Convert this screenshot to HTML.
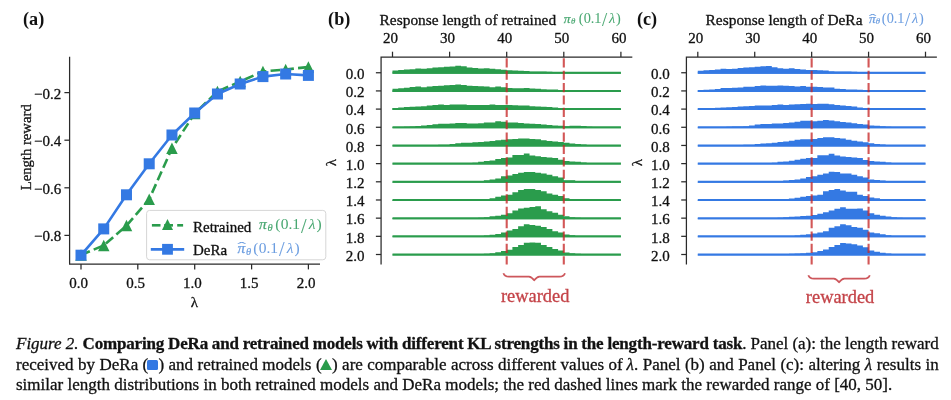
<!DOCTYPE html>
<html><head><meta charset="utf-8"><style>
html,body{margin:0;padding:0;background:#fff;}
body{width:951px;height:400px;overflow:hidden;position:relative;}
svg,.cap{will-change:transform;}
svg{position:absolute;left:0;top:0;}
.t{font-family:"Liberation Serif",serif;font-size:15px;fill:#111;stroke:#111;stroke-width:0.3px;}
.m{font-family:"Liberation Serif",serif;}
.mi{font-family:"Liberation Serif",serif;font-style:italic;}
.sub{font-size:10.5px;font-style:italic;}
.pl{font-family:"Liberation Serif",serif;font-size:18.2px;font-weight:bold;fill:#111;}
.rw{font-family:"Liberation Serif",serif;font-size:18.4px;fill:#c44348;stroke:#c44348;stroke-width:0.3px;}
.sp{fill:none;stroke:#2a2a2a;stroke-width:1.25;}
.tk{stroke:#2a2a2a;stroke-width:1.25;}
.cap{position:absolute;left:15.6px;width:922.7px;font-family:"Liberation Serif",serif;font-size:17px;color:#111;white-space:nowrap;line-height:20px;word-spacing:-0.4px;-webkit-text-stroke:0.3px #111;}
.j{text-align:justify;text-align-last:justify;}
.ic{display:inline-block;width:11.7px;height:10.4px;background:#3479e3;border-radius:1.5px;vertical-align:0px;}
.it{display:inline-block;width:0;height:0;border-left:6.2px solid transparent;border-right:6.2px solid transparent;border-bottom:11px solid #2a9c4c;vertical-align:-0.3px;}
</style></head><body>
<svg width="951" height="400" viewBox="0 0 951 400">
<text x="23.0" y="25.0" class="pl">(a)</text>
<path d="M69.6,56.7 V264.0 H320.0" class="sp"/>
<line x1="64.4" y1="92.6" x2="69.6" y2="92.6" class="tk"/>
<text x="61.3" y="98.6" class="t" text-anchor="end">−0.2</text>
<line x1="64.4" y1="140.2" x2="69.6" y2="140.2" class="tk"/>
<text x="61.3" y="146.2" class="t" text-anchor="end">−0.4</text>
<line x1="64.4" y1="187.8" x2="69.6" y2="187.8" class="tk"/>
<text x="61.3" y="193.8" class="t" text-anchor="end">−0.6</text>
<line x1="64.4" y1="235.4" x2="69.6" y2="235.4" class="tk"/>
<text x="61.3" y="241.4" class="t" text-anchor="end">−0.8</text>
<line x1="81.0" y1="264.0" x2="81.0" y2="269.4" class="tk"/>
<text x="78.7" y="287.8" class="t" text-anchor="middle">0.0</text>
<line x1="137.8" y1="264.0" x2="137.8" y2="269.4" class="tk"/>
<text x="135.5" y="287.8" class="t" text-anchor="middle">0.5</text>
<line x1="194.7" y1="264.0" x2="194.7" y2="269.4" class="tk"/>
<text x="192.4" y="287.8" class="t" text-anchor="middle">1.0</text>
<line x1="251.6" y1="264.0" x2="251.6" y2="269.4" class="tk"/>
<text x="249.2" y="287.8" class="t" text-anchor="middle">1.5</text>
<line x1="308.4" y1="264.0" x2="308.4" y2="269.4" class="tk"/>
<text x="306.1" y="287.8" class="t" text-anchor="middle">2.0</text>
<text x="194.4" y="307.3" class="t" text-anchor="middle">λ</text>
<text transform="translate(31,147.3) rotate(-90)" class="t" style="font-size:14.7px" text-anchor="middle">Length reward</text>
<polyline points="81.00,255.00 103.74,245.40 126.48,225.60 149.22,199.20 171.96,148.30 194.70,113.50 217.44,91.50 240.18,81.50 262.92,71.50 285.66,69.50 308.40,67.00" fill="none" stroke="#2a9c4c" stroke-width="2.6" stroke-dasharray="9.6,4.2" stroke-linejoin="round"/>
<path d="M81.00,249.25 L75.25,260.75 L86.75,260.75Z" fill="#2a9c4c"/>
<path d="M103.74,239.65 L97.99,251.15 L109.49,251.15Z" fill="#2a9c4c"/>
<path d="M126.48,219.85 L120.73,231.35 L132.23,231.35Z" fill="#2a9c4c"/>
<path d="M149.22,193.45 L143.47,204.95 L154.97,204.95Z" fill="#2a9c4c"/>
<path d="M171.96,142.55 L166.21,154.05 L177.71,154.05Z" fill="#2a9c4c"/>
<path d="M194.70,107.75 L188.95,119.25 L200.45,119.25Z" fill="#2a9c4c"/>
<path d="M217.44,85.75 L211.69,97.25 L223.19,97.25Z" fill="#2a9c4c"/>
<path d="M240.18,75.75 L234.43,87.25 L245.93,87.25Z" fill="#2a9c4c"/>
<path d="M262.92,65.75 L257.17,77.25 L268.67,77.25Z" fill="#2a9c4c"/>
<path d="M285.66,63.75 L279.91,75.25 L291.41,75.25Z" fill="#2a9c4c"/>
<path d="M308.40,61.25 L302.65,72.75 L314.15,72.75Z" fill="#2a9c4c"/>
<polyline points="81.00,255.20 103.74,228.90 126.48,194.80 149.22,163.80 171.96,135.00 194.70,113.00 217.44,94.00 240.18,84.00 262.92,76.60 285.66,74.00 308.40,75.40" fill="none" stroke="#3479e3" stroke-width="2.6" stroke-linejoin="round"/>
<rect x="75.50" y="249.70" width="11.0" height="11.0" fill="#3479e3"/>
<rect x="98.24" y="223.40" width="11.0" height="11.0" fill="#3479e3"/>
<rect x="120.98" y="189.30" width="11.0" height="11.0" fill="#3479e3"/>
<rect x="143.72" y="158.30" width="11.0" height="11.0" fill="#3479e3"/>
<rect x="166.46" y="129.50" width="11.0" height="11.0" fill="#3479e3"/>
<rect x="189.20" y="107.50" width="11.0" height="11.0" fill="#3479e3"/>
<rect x="211.94" y="88.50" width="11.0" height="11.0" fill="#3479e3"/>
<rect x="234.68" y="78.50" width="11.0" height="11.0" fill="#3479e3"/>
<rect x="257.42" y="71.10" width="11.0" height="11.0" fill="#3479e3"/>
<rect x="280.16" y="68.50" width="11.0" height="11.0" fill="#3479e3"/>
<rect x="302.90" y="69.90" width="11.0" height="11.0" fill="#3479e3"/>
<rect x="146.6" y="210.4" width="179.2" height="49.4" rx="3" ry="3" fill="#fff" fill-opacity="0.85" stroke="#d6d6d6" stroke-width="1"/>
<line x1="151.9" y1="225.3" x2="160.5" y2="225.3" stroke="#2a9c4c" stroke-width="2.6"/>
<line x1="164.2" y1="225.3" x2="173" y2="225.3" stroke="#2a9c4c" stroke-width="2.6"/>
<line x1="177.2" y1="225.3" x2="183.1" y2="225.3" stroke="#2a9c4c" stroke-width="2.6"/>
<path d="M167.50,218.90 L162.00,229.90 L173.00,229.90Z" fill="#2a9c4c"/>
<line x1="150.8" y1="249.4" x2="184.2" y2="249.4" stroke="#3479e3" stroke-width="2.6"/>
<rect x="162.10" y="243.90" width="10.8" height="10.8" fill="#3479e3"/>
<text x="193" y="231.6" class="t">Retrained</text>
<text x="259.12" y="229.00" font-size="15.5" class="mi" fill="#4aa872" stroke="#4aa872" stroke-width="0.25">π</text>
<text x="267.39" y="231.40" font-size="10.5" class="mi" fill="#4aa872" stroke="#4aa872" stroke-width="0.2">θ</text>
<text x="275.32" y="229.40" font-size="15.5" class="m" fill="#4aa872" stroke="#4aa872" stroke-width="0.05">(</text>
<text x="280.70" y="229.40" font-size="15.5" class="m" fill="#4aa872" stroke="#4aa872" stroke-width="0.05">0</text>
<text x="288.49" y="229.40" font-size="15.5" class="m" fill="#4aa872" stroke="#4aa872" stroke-width="0.05">.</text>
<text x="292.30" y="229.40" font-size="15.5" class="m" fill="#4aa872" stroke="#4aa872" stroke-width="0.05">1</text>
<text x="300.95" y="232.83" font-size="20.15" class="m" fill="#4aa872" stroke="#4aa872" stroke-width="0.05">/</text>
<text x="308.87" y="229.40" font-size="15.5" class="mi" fill="#4aa872" stroke="#4aa872" stroke-width="0.05">λ</text>
<text x="316.60" y="229.40" font-size="15.5" class="m" fill="#4aa872" stroke="#4aa872" stroke-width="0.05">)</text>
<text x="193" y="254.5" class="t">DeRa</text>
<text x="237.42" y="252.60" font-size="15.5" class="mi" fill="#6d9ee0" stroke="#6d9ee0" stroke-width="0.25">π</text>
<text x="245.89" y="254.60" font-size="10.5" class="mi" fill="#6d9ee0" stroke="#6d9ee0" stroke-width="0.2">θ</text>
<text x="253.32" y="252.90" font-size="15.5" class="m" fill="#6d9ee0" stroke="#6d9ee0" stroke-width="0.05">(</text>
<text x="258.70" y="252.90" font-size="15.5" class="m" fill="#6d9ee0" stroke="#6d9ee0" stroke-width="0.05">0</text>
<text x="266.49" y="252.90" font-size="15.5" class="m" fill="#6d9ee0" stroke="#6d9ee0" stroke-width="0.05">.</text>
<text x="270.30" y="252.90" font-size="15.5" class="m" fill="#6d9ee0" stroke="#6d9ee0" stroke-width="0.05">1</text>
<text x="278.95" y="256.33" font-size="20.15" class="m" fill="#6d9ee0" stroke="#6d9ee0" stroke-width="0.05">/</text>
<text x="286.87" y="252.90" font-size="15.5" class="mi" fill="#6d9ee0" stroke="#6d9ee0" stroke-width="0.05">λ</text>
<text x="294.60" y="252.90" font-size="15.5" class="m" fill="#6d9ee0" stroke="#6d9ee0" stroke-width="0.05">)</text>
<text transform="translate(237.30,251.55) scale(1.9,1)" font-size="14" class="m" fill="#6d9ee0">ˆ</text>
<text x="328.1" y="25.0" class="pl">(b)</text>
<path d="M392.50,73.75 L392.50,70.45 L398.21,70.45 L398.21,70.05 L403.92,70.05 L403.92,69.45 L409.63,69.45 L409.63,69.15 L415.34,69.15 L415.34,68.45 L421.05,68.45 L421.05,68.75 L426.76,68.75 L426.76,68.15 L432.47,68.15 L432.47,67.55 L438.18,67.55 L438.18,67.15 L443.89,67.15 L443.89,66.75 L449.60,66.75 L449.60,66.55 L455.31,66.55 L455.31,65.85 L461.02,65.85 L461.02,66.25 L466.73,66.25 L466.73,67.55 L472.44,67.55 L472.44,68.05 L478.15,68.05 L478.15,68.45 L483.86,68.45 L483.86,68.15 L489.57,68.15 L489.57,68.85 L495.28,68.85 L495.28,69.35 L500.99,69.35 L500.99,69.75 L506.70,69.75 L506.70,70.15 L512.41,70.15 L512.41,70.45 L518.12,70.45 L518.12,70.65 L523.83,70.65 L523.83,71.05 L529.54,71.05 L529.54,71.45 L535.25,71.45 L535.25,71.45 L540.96,71.45 L540.96,71.55 L546.67,71.55 L546.67,71.85 L552.38,71.85 L552.38,71.95 L558.09,71.95 L558.09,72.15 L563.80,72.15 L563.80,72.35 L569.51,72.35 L569.51,72.55 L575.22,72.55 L575.22,72.65 L580.93,72.65 L580.93,72.65 L586.64,72.65 L586.64,72.65 L592.35,72.65 L592.35,72.65 L598.06,72.65 L598.06,72.65 L603.77,72.65 L603.77,72.65 L609.48,72.65 L609.48,72.65 L615.19,72.65 L615.19,72.65 L620.90,72.65 L620.90,73.75Z" fill="#2a9c4c"/>
<line x1="392.50" y1="72.75" x2="620.90" y2="72.75" stroke="#2a9c4c" stroke-width="2"/>
<path d="M392.50,91.92 L392.50,88.83 L398.21,88.83 L398.21,88.33 L403.92,88.33 L403.92,87.72 L409.63,87.72 L409.63,87.02 L415.34,87.02 L415.34,86.62 L421.05,86.62 L421.05,87.33 L426.76,87.33 L426.76,86.62 L432.47,86.62 L432.47,86.02 L438.18,86.02 L438.18,85.72 L443.89,85.72 L443.89,85.33 L449.60,85.33 L449.60,84.92 L455.31,84.92 L455.31,84.42 L461.02,84.42 L461.02,84.92 L466.73,84.92 L466.73,85.72 L472.44,85.72 L472.44,86.02 L478.15,86.02 L478.15,86.22 L483.86,86.22 L483.86,86.62 L489.57,86.62 L489.57,87.33 L495.28,87.33 L495.28,86.62 L500.99,86.62 L500.99,87.33 L506.70,87.33 L506.70,88.02 L512.41,88.02 L512.41,88.33 L518.12,88.33 L518.12,88.33 L523.83,88.33 L523.83,88.02 L529.54,88.02 L529.54,88.62 L535.25,88.62 L535.25,88.83 L540.96,88.83 L540.96,89.22 L546.67,89.22 L546.67,89.62 L552.38,89.62 L552.38,89.62 L558.09,89.62 L558.09,89.92 L563.80,89.92 L563.80,90.22 L569.51,90.22 L569.51,90.42 L575.22,90.42 L575.22,90.67 L580.93,90.67 L580.93,90.80 L586.64,90.80 L586.64,90.83 L592.35,90.83 L592.35,90.83 L598.06,90.83 L598.06,90.83 L603.77,90.83 L603.77,90.83 L609.48,90.83 L609.48,90.83 L615.19,90.83 L615.19,90.83 L620.90,90.83 L620.90,91.92Z" fill="#2a9c4c"/>
<line x1="392.50" y1="90.92" x2="620.90" y2="90.92" stroke="#2a9c4c" stroke-width="2"/>
<path d="M392.50,110.10 L392.50,107.90 L398.21,107.90 L398.21,107.50 L403.92,107.50 L403.92,107.10 L409.63,107.10 L409.63,106.80 L415.34,106.80 L415.34,106.60 L421.05,106.60 L421.05,106.20 L426.76,106.20 L426.76,105.50 L432.47,105.50 L432.47,104.90 L438.18,104.90 L438.18,104.60 L443.89,104.60 L443.89,104.90 L449.60,104.90 L449.60,104.60 L455.31,104.60 L455.31,104.50 L461.02,104.50 L461.02,104.60 L466.73,104.60 L466.73,104.90 L472.44,104.90 L472.44,104.90 L478.15,104.90 L478.15,104.90 L483.86,104.90 L483.86,104.90 L489.57,104.90 L489.57,104.60 L495.28,104.60 L495.28,104.90 L500.99,104.90 L500.99,104.90 L506.70,104.90 L506.70,104.90 L512.41,104.90 L512.41,105.30 L518.12,105.30 L518.12,105.50 L523.83,105.50 L523.83,105.50 L529.54,105.50 L529.54,106.20 L535.25,106.20 L535.25,106.60 L540.96,106.60 L540.96,106.80 L546.67,106.80 L546.67,107.10 L552.38,107.10 L552.38,107.50 L558.09,107.50 L558.09,107.90 L563.80,107.90 L563.80,108.10 L569.51,108.10 L569.51,108.50 L575.22,108.50 L575.22,108.80 L580.93,108.80 L580.93,108.95 L586.64,108.95 L586.64,109.00 L592.35,109.00 L592.35,109.00 L598.06,109.00 L598.06,109.00 L603.77,109.00 L603.77,109.00 L609.48,109.00 L609.48,109.00 L615.19,109.00 L615.19,109.00 L620.90,109.00 L620.90,110.10Z" fill="#2a9c4c"/>
<line x1="392.50" y1="109.10" x2="620.90" y2="109.10" stroke="#2a9c4c" stroke-width="2"/>
<path d="M392.50,128.28 L392.50,127.08 L398.21,127.08 L398.21,126.98 L403.92,126.98 L403.92,126.78 L409.63,126.78 L409.63,126.48 L415.34,126.48 L415.34,126.08 L421.05,126.08 L421.05,125.48 L426.76,125.48 L426.76,124.88 L432.47,124.88 L432.47,124.28 L438.18,124.28 L438.18,123.78 L443.89,123.78 L443.89,123.78 L449.60,123.78 L449.60,123.38 L455.31,123.38 L455.31,122.88 L461.02,122.88 L461.02,122.88 L466.73,122.88 L466.73,123.38 L472.44,123.38 L472.44,123.38 L478.15,123.38 L478.15,123.28 L483.86,123.28 L483.86,122.58 L489.57,122.58 L489.57,122.58 L495.28,122.58 L495.28,121.28 L500.99,121.28 L500.99,121.78 L506.70,121.78 L506.70,122.38 L512.41,122.38 L512.41,122.58 L518.12,122.58 L518.12,122.88 L523.83,122.88 L523.83,123.38 L529.54,123.38 L529.54,123.78 L535.25,123.78 L535.25,124.08 L540.96,124.08 L540.96,124.58 L546.67,124.58 L546.67,124.98 L552.38,124.98 L552.38,125.48 L558.09,125.48 L558.09,125.78 L563.80,125.78 L563.80,126.28 L569.51,126.28 L569.51,125.68 L575.22,125.68 L575.22,125.68 L580.93,125.68 L580.93,125.88 L586.64,125.88 L586.64,126.68 L592.35,126.68 L592.35,126.98 L598.06,126.98 L598.06,127.12 L603.77,127.12 L603.77,127.18 L609.48,127.18 L609.48,127.18 L615.19,127.18 L615.19,127.18 L620.90,127.18 L620.90,128.28Z" fill="#2a9c4c"/>
<line x1="392.50" y1="127.28" x2="620.90" y2="127.28" stroke="#2a9c4c" stroke-width="2"/>
<path d="M392.50,146.45 L392.50,145.35 L398.21,145.35 L398.21,145.35 L403.92,145.35 L403.92,145.35 L409.63,145.35 L409.63,145.30 L415.34,145.30 L415.34,145.25 L421.05,145.25 L421.05,145.15 L426.76,145.15 L426.76,145.05 L432.47,145.05 L432.47,144.95 L438.18,144.95 L438.18,144.85 L443.89,144.85 L443.89,144.85 L449.60,144.85 L449.60,143.95 L455.31,143.95 L455.31,143.15 L461.02,143.15 L461.02,142.65 L466.73,142.65 L466.73,142.65 L472.44,142.65 L472.44,142.35 L478.15,142.35 L478.15,141.95 L483.86,141.95 L483.86,141.45 L489.57,141.45 L489.57,140.95 L495.28,140.95 L495.28,140.15 L500.99,140.15 L500.99,139.75 L506.70,139.75 L506.70,139.25 L512.41,139.25 L512.41,138.95 L518.12,138.95 L518.12,138.55 L523.83,138.55 L523.83,138.55 L529.54,138.55 L529.54,138.95 L535.25,138.95 L535.25,139.25 L540.96,139.25 L540.96,140.25 L546.67,140.25 L546.67,140.95 L552.38,140.95 L552.38,141.45 L558.09,141.45 L558.09,141.95 L563.80,141.95 L563.80,142.85 L569.51,142.85 L569.51,143.55 L575.22,143.55 L575.22,143.95 L580.93,143.95 L580.93,144.55 L586.64,144.55 L586.64,144.95 L592.35,144.95 L592.35,145.20 L598.06,145.20 L598.06,145.32 L603.77,145.32 L603.77,145.35 L609.48,145.35 L609.48,145.35 L615.19,145.35 L615.19,145.35 L620.90,145.35 L620.90,146.45Z" fill="#2a9c4c"/>
<line x1="392.50" y1="145.45" x2="620.90" y2="145.45" stroke="#2a9c4c" stroke-width="2"/>
<path d="M392.50,164.62 L392.50,163.53 L398.21,163.53 L398.21,163.53 L403.92,163.53 L403.92,163.53 L409.63,163.53 L409.63,163.53 L415.34,163.53 L415.34,163.53 L421.05,163.53 L421.05,163.53 L426.76,163.53 L426.76,163.53 L432.47,163.53 L432.47,163.53 L438.18,163.53 L438.18,163.53 L443.89,163.53 L443.89,163.53 L449.60,163.53 L449.60,163.53 L455.31,163.53 L455.31,163.51 L461.02,163.51 L461.02,163.40 L466.73,163.40 L466.73,163.18 L472.44,163.18 L472.44,162.72 L478.15,162.72 L478.15,161.82 L483.86,161.82 L483.86,161.12 L489.57,161.12 L489.57,160.43 L495.28,160.43 L495.28,159.03 L500.99,159.03 L500.99,157.93 L506.70,157.93 L506.70,157.62 L512.41,157.62 L512.41,154.93 L518.12,154.93 L518.12,154.93 L523.83,154.93 L523.83,153.53 L529.54,153.53 L529.54,155.62 L535.25,155.62 L535.25,156.32 L540.96,156.32 L540.96,156.93 L546.67,156.93 L546.67,157.43 L552.38,157.43 L552.38,157.93 L558.09,157.93 L558.09,159.72 L563.80,159.72 L563.80,161.12 L569.51,161.12 L569.51,161.53 L575.22,161.53 L575.22,161.82 L580.93,161.82 L580.93,162.43 L586.64,162.43 L586.64,163.03 L592.35,163.03 L592.35,163.32 L598.06,163.32 L598.06,163.47 L603.77,163.47 L603.77,163.53 L609.48,163.53 L609.48,163.53 L615.19,163.53 L615.19,163.53 L620.90,163.53 L620.90,164.62Z" fill="#2a9c4c"/>
<line x1="392.50" y1="163.62" x2="620.90" y2="163.62" stroke="#2a9c4c" stroke-width="2"/>
<path d="M392.50,182.80 L392.50,181.70 L398.21,181.70 L398.21,181.70 L403.92,181.70 L403.92,181.70 L409.63,181.70 L409.63,181.70 L415.34,181.70 L415.34,181.70 L421.05,181.70 L421.05,181.70 L426.76,181.70 L426.76,181.70 L432.47,181.70 L432.47,181.70 L438.18,181.70 L438.18,181.70 L443.89,181.70 L443.89,181.70 L449.60,181.70 L449.60,181.70 L455.31,181.70 L455.31,181.70 L461.02,181.70 L461.02,181.70 L466.73,181.70 L466.73,181.60 L472.44,181.60 L472.44,181.40 L478.15,181.40 L478.15,181.00 L483.86,181.00 L483.86,180.30 L489.57,180.30 L489.57,179.60 L495.28,179.60 L495.28,178.50 L500.99,178.50 L500.99,176.20 L506.70,176.20 L506.70,175.50 L512.41,175.50 L512.41,174.10 L518.12,174.10 L518.12,172.80 L523.83,172.80 L523.83,172.10 L529.54,172.10 L529.54,172.10 L535.25,172.10 L535.25,172.80 L540.96,172.80 L540.96,173.50 L546.67,173.50 L546.67,174.80 L552.38,174.80 L552.38,176.20 L558.09,176.20 L558.09,177.60 L563.80,177.60 L563.80,180.30 L569.51,180.30 L569.51,180.30 L575.22,180.30 L575.22,181.00 L580.93,181.00 L580.93,181.40 L586.64,181.40 L586.64,181.60 L592.35,181.60 L592.35,181.70 L598.06,181.70 L598.06,181.70 L603.77,181.70 L603.77,181.70 L609.48,181.70 L609.48,181.70 L615.19,181.70 L615.19,181.70 L620.90,181.70 L620.90,182.80Z" fill="#2a9c4c"/>
<line x1="392.50" y1="181.80" x2="620.90" y2="181.80" stroke="#2a9c4c" stroke-width="2"/>
<path d="M392.50,200.98 L392.50,199.88 L398.21,199.88 L398.21,199.88 L403.92,199.88 L403.92,199.88 L409.63,199.88 L409.63,199.88 L415.34,199.88 L415.34,199.88 L421.05,199.88 L421.05,199.88 L426.76,199.88 L426.76,199.88 L432.47,199.88 L432.47,199.88 L438.18,199.88 L438.18,199.88 L443.89,199.88 L443.89,199.88 L449.60,199.88 L449.60,199.88 L455.31,199.88 L455.31,199.88 L461.02,199.88 L461.02,199.88 L466.73,199.88 L466.73,199.88 L472.44,199.88 L472.44,199.78 L478.15,199.78 L478.15,199.58 L483.86,199.58 L483.86,198.88 L489.57,198.88 L489.57,198.18 L495.28,198.18 L495.28,196.78 L500.99,196.78 L500.99,195.48 L506.70,195.48 L506.70,194.78 L512.41,194.78 L512.41,192.28 L518.12,192.28 L518.12,189.98 L523.83,189.98 L523.83,188.98 L529.54,188.98 L529.54,188.98 L535.25,188.98 L535.25,189.98 L540.96,189.98 L540.96,191.28 L546.67,191.28 L546.67,193.38 L552.38,193.38 L552.38,194.78 L558.09,194.78 L558.09,196.08 L563.80,196.08 L563.80,198.18 L569.51,198.18 L569.51,198.88 L575.22,198.88 L575.22,199.43 L580.93,199.43 L580.93,199.70 L586.64,199.70 L586.64,199.84 L592.35,199.84 L592.35,199.88 L598.06,199.88 L598.06,199.88 L603.77,199.88 L603.77,199.88 L609.48,199.88 L609.48,199.88 L615.19,199.88 L615.19,199.88 L620.90,199.88 L620.90,200.98Z" fill="#2a9c4c"/>
<line x1="392.50" y1="199.98" x2="620.90" y2="199.98" stroke="#2a9c4c" stroke-width="2"/>
<path d="M392.50,219.15 L392.50,218.05 L398.21,218.05 L398.21,218.05 L403.92,218.05 L403.92,218.05 L409.63,218.05 L409.63,218.05 L415.34,218.05 L415.34,218.05 L421.05,218.05 L421.05,218.05 L426.76,218.05 L426.76,218.05 L432.47,218.05 L432.47,218.05 L438.18,218.05 L438.18,218.05 L443.89,218.05 L443.89,218.05 L449.60,218.05 L449.60,218.05 L455.31,218.05 L455.31,218.05 L461.02,218.05 L461.02,218.05 L466.73,218.05 L466.73,218.05 L472.44,218.05 L472.44,218.00 L478.15,218.00 L478.15,217.85 L483.86,217.85 L483.86,217.15 L489.57,217.15 L489.57,216.25 L495.28,216.25 L495.28,215.65 L500.99,215.65 L500.99,214.65 L506.70,214.65 L506.70,213.25 L512.41,213.25 L512.41,210.55 L518.12,210.55 L518.12,208.45 L523.83,208.45 L523.83,207.75 L529.54,207.75 L529.54,207.05 L535.25,207.05 L535.25,206.35 L540.96,206.35 L540.96,209.15 L546.67,209.15 L546.67,211.25 L552.38,211.25 L552.38,212.85 L558.09,212.85 L558.09,214.65 L563.80,214.65 L563.80,216.25 L569.51,216.25 L569.51,217.15 L575.22,217.15 L575.22,217.85 L580.93,217.85 L580.93,218.00 L586.64,218.00 L586.64,218.05 L592.35,218.05 L592.35,218.05 L598.06,218.05 L598.06,218.05 L603.77,218.05 L603.77,218.05 L609.48,218.05 L609.48,218.05 L615.19,218.05 L615.19,218.05 L620.90,218.05 L620.90,219.15Z" fill="#2a9c4c"/>
<line x1="392.50" y1="218.15" x2="620.90" y2="218.15" stroke="#2a9c4c" stroke-width="2"/>
<path d="M392.50,237.33 L392.50,236.23 L398.21,236.23 L398.21,236.23 L403.92,236.23 L403.92,236.23 L409.63,236.23 L409.63,236.23 L415.34,236.23 L415.34,236.23 L421.05,236.23 L421.05,236.23 L426.76,236.23 L426.76,236.23 L432.47,236.23 L432.47,236.23 L438.18,236.23 L438.18,236.23 L443.89,236.23 L443.89,236.23 L449.60,236.23 L449.60,236.23 L455.31,236.23 L455.31,236.23 L461.02,236.23 L461.02,236.23 L466.73,236.23 L466.73,236.23 L472.44,236.23 L472.44,236.13 L478.15,236.13 L478.15,235.93 L483.86,235.93 L483.86,235.53 L489.57,235.53 L489.57,234.83 L495.28,234.83 L495.28,233.93 L500.99,233.93 L500.99,232.53 L506.70,232.53 L506.70,230.43 L512.41,230.43 L512.41,229.03 L518.12,229.03 L518.12,226.33 L523.83,226.33 L523.83,224.23 L529.54,224.23 L529.54,224.93 L535.25,224.93 L535.25,225.63 L540.96,225.63 L540.96,227.03 L546.67,227.03 L546.67,229.03 L552.38,229.03 L552.38,231.13 L558.09,231.13 L558.09,232.53 L563.80,232.53 L563.80,234.53 L569.51,234.53 L569.51,235.23 L575.22,235.23 L575.22,235.93 L580.93,235.93 L580.93,236.13 L586.64,236.13 L586.64,236.23 L592.35,236.23 L592.35,236.23 L598.06,236.23 L598.06,236.23 L603.77,236.23 L603.77,236.23 L609.48,236.23 L609.48,236.23 L615.19,236.23 L615.19,236.23 L620.90,236.23 L620.90,237.33Z" fill="#2a9c4c"/>
<line x1="392.50" y1="236.33" x2="620.90" y2="236.33" stroke="#2a9c4c" stroke-width="2"/>
<path d="M392.50,255.50 L392.50,254.40 L398.21,254.40 L398.21,254.40 L403.92,254.40 L403.92,254.40 L409.63,254.40 L409.63,254.40 L415.34,254.40 L415.34,254.40 L421.05,254.40 L421.05,254.40 L426.76,254.40 L426.76,254.40 L432.47,254.40 L432.47,254.40 L438.18,254.40 L438.18,254.40 L443.89,254.40 L443.89,254.40 L449.60,254.40 L449.60,254.40 L455.31,254.40 L455.31,254.40 L461.02,254.40 L461.02,254.40 L466.73,254.40 L466.73,254.40 L472.44,254.40 L472.44,254.30 L478.15,254.30 L478.15,254.10 L483.86,254.10 L483.86,253.80 L489.57,253.80 L489.57,253.20 L495.28,253.20 L495.28,252.20 L500.99,252.20 L500.99,251.10 L506.70,251.10 L506.70,249.70 L512.41,249.70 L512.41,247.00 L518.12,247.00 L518.12,244.90 L523.83,244.90 L523.83,242.80 L529.54,242.80 L529.54,242.60 L535.25,242.60 L535.25,242.80 L540.96,242.80 L540.96,244.90 L546.67,244.90 L546.67,247.00 L552.38,247.00 L552.38,249.00 L558.09,249.00 L558.09,250.40 L563.80,250.40 L563.80,252.50 L569.51,252.50 L569.51,253.20 L575.22,253.20 L575.22,253.80 L580.93,253.80 L580.93,254.15 L586.64,254.15 L586.64,254.32 L592.35,254.32 L592.35,254.40 L598.06,254.40 L598.06,254.40 L603.77,254.40 L603.77,254.40 L609.48,254.40 L609.48,254.40 L615.19,254.40 L615.19,254.40 L620.90,254.40 L620.90,255.50Z" fill="#2a9c4c"/>
<line x1="392.50" y1="254.50" x2="620.90" y2="254.50" stroke="#2a9c4c" stroke-width="2"/>
<line x1="506.70" y1="58.3" x2="506.70" y2="264.5" stroke="#c62828" stroke-width="2.1" stroke-dasharray="9.2,3.17" stroke-opacity="0.78"/>
<line x1="563.80" y1="58.3" x2="563.80" y2="264.5" stroke="#c62828" stroke-width="2.1" stroke-dasharray="9.2,3.17" stroke-opacity="0.78"/>
<path d="M381.08,264.5 V57.0 H632.32" class="sp"/>
<line x1="392.50" y1="51.7" x2="392.50" y2="57.0" class="tk"/>
<text x="390.50" y="43.2" class="t" text-anchor="middle">20</text>
<line x1="449.60" y1="51.7" x2="449.60" y2="57.0" class="tk"/>
<text x="447.60" y="43.2" class="t" text-anchor="middle">30</text>
<line x1="506.70" y1="51.7" x2="506.70" y2="57.0" class="tk"/>
<text x="504.70" y="43.2" class="t" text-anchor="middle">40</text>
<line x1="563.80" y1="51.7" x2="563.80" y2="57.0" class="tk"/>
<text x="561.80" y="43.2" class="t" text-anchor="middle">50</text>
<line x1="620.90" y1="51.7" x2="620.90" y2="57.0" class="tk"/>
<text x="618.90" y="43.2" class="t" text-anchor="middle">60</text>
<line x1="375.88" y1="72.75" x2="381.08" y2="72.75" class="tk"/>
<text x="364.48" y="79.05" class="t" text-anchor="end">0.0</text>
<line x1="375.88" y1="90.92" x2="381.08" y2="90.92" class="tk"/>
<text x="364.48" y="97.22" class="t" text-anchor="end">0.2</text>
<line x1="375.88" y1="109.10" x2="381.08" y2="109.10" class="tk"/>
<text x="364.48" y="115.40" class="t" text-anchor="end">0.4</text>
<line x1="375.88" y1="127.28" x2="381.08" y2="127.28" class="tk"/>
<text x="364.48" y="133.58" class="t" text-anchor="end">0.6</text>
<line x1="375.88" y1="145.45" x2="381.08" y2="145.45" class="tk"/>
<text x="364.48" y="151.75" class="t" text-anchor="end">0.8</text>
<line x1="375.88" y1="163.62" x2="381.08" y2="163.62" class="tk"/>
<text x="364.48" y="169.93" class="t" text-anchor="end">1.0</text>
<line x1="375.88" y1="181.80" x2="381.08" y2="181.80" class="tk"/>
<text x="364.48" y="188.10" class="t" text-anchor="end">1.2</text>
<line x1="375.88" y1="199.98" x2="381.08" y2="199.98" class="tk"/>
<text x="364.48" y="206.28" class="t" text-anchor="end">1.4</text>
<line x1="375.88" y1="218.15" x2="381.08" y2="218.15" class="tk"/>
<text x="364.48" y="224.45" class="t" text-anchor="end">1.6</text>
<line x1="375.88" y1="236.33" x2="381.08" y2="236.33" class="tk"/>
<text x="364.48" y="242.63" class="t" text-anchor="end">1.8</text>
<line x1="375.88" y1="254.50" x2="381.08" y2="254.50" class="tk"/>
<text x="364.48" y="260.80" class="t" text-anchor="end">2.0</text>
<text transform="translate(331.18,162.5) rotate(-90)" class="t" text-anchor="middle" dominant-baseline="central">λ</text>
<text x="379.6" y="24.7" class="t" style="font-size:15.4px">Response length of retrained</text>
<text x="563.78" y="22.90" font-size="13.5" class="mi" fill="#4aa872" stroke="#4aa872" stroke-width="0.25">π</text>
<text x="570.97" y="24.40" font-size="8.8" class="mi" fill="#4aa872" stroke="#4aa872" stroke-width="0.2">θ</text>
<text x="578.87" y="23.10" font-size="14.3" class="m" fill="#4aa872" stroke="#4aa872" stroke-width="0.05">(</text>
<text x="583.69" y="23.10" font-size="14.3" class="m" fill="#4aa872" stroke="#4aa872" stroke-width="0.05">0</text>
<text x="590.74" y="23.10" font-size="14.3" class="m" fill="#4aa872" stroke="#4aa872" stroke-width="0.05">.</text>
<text x="594.13" y="23.10" font-size="14.3" class="m" fill="#4aa872" stroke="#4aa872" stroke-width="0.05">1</text>
<text x="601.94" y="26.26" font-size="18.59" class="m" fill="#4aa872" stroke="#4aa872" stroke-width="0.05">/</text>
<text x="609.06" y="23.10" font-size="14.3" class="mi" fill="#4aa872" stroke="#4aa872" stroke-width="0.05">λ</text>
<text x="616.03" y="23.10" font-size="14.3" class="m" fill="#4aa872" stroke="#4aa872" stroke-width="0.05">)</text>
<path d="M503.40,273.2 Q504.60,276.6 508.90,276.6 L528.90,276.6 Q531.70,276.8 534.20,280.3 Q536.70,276.8 539.50,276.6 L559.50,276.6 Q563.80,276.6 565.00,273.2" fill="none" stroke="#c43a40" stroke-width="1.8" stroke-opacity="0.85" stroke-linejoin="round"/>
<text x="535.20" y="302.2" class="rw" text-anchor="middle">rewarded</text>
<text x="636.9" y="25.0" class="pl">(c)</text>
<path d="M697.80,73.75 L697.80,70.85 L703.49,70.85 L703.49,70.25 L709.18,70.25 L709.18,69.95 L714.88,69.95 L714.88,69.55 L720.57,69.55 L720.57,68.65 L726.26,68.65 L726.26,68.95 L731.95,68.95 L731.95,68.65 L737.65,68.65 L737.65,67.95 L743.34,67.95 L743.34,67.55 L749.03,67.55 L749.03,67.35 L754.72,67.35 L754.72,66.65 L760.42,66.65 L760.42,66.25 L766.11,66.25 L766.11,66.05 L771.80,66.05 L771.80,67.35 L777.50,67.35 L777.50,68.25 L783.19,68.25 L783.19,68.65 L788.88,68.65 L788.88,68.35 L794.57,68.35 L794.57,68.95 L800.26,68.95 L800.26,69.55 L805.96,69.55 L805.96,69.95 L811.65,69.95 L811.65,69.95 L817.34,69.95 L817.34,70.25 L823.03,70.25 L823.03,70.55 L828.73,70.55 L828.73,71.25 L834.42,71.25 L834.42,71.55 L840.11,71.55 L840.11,71.55 L845.80,71.55 L845.80,71.55 L851.50,71.55 L851.50,71.65 L857.19,71.65 L857.19,71.95 L862.88,71.95 L862.88,72.15 L868.58,72.15 L868.58,72.45 L874.27,72.45 L874.27,72.60 L879.96,72.60 L879.96,72.65 L885.65,72.65 L885.65,72.65 L891.35,72.65 L891.35,72.65 L897.04,72.65 L897.04,72.65 L902.73,72.65 L902.73,72.65 L908.42,72.65 L908.42,72.65 L914.12,72.65 L914.12,72.65 L919.81,72.65 L919.81,72.65 L925.50,72.65 L925.50,73.75Z" fill="#3479e3"/>
<line x1="697.80" y1="72.75" x2="925.50" y2="72.75" stroke="#3479e3" stroke-width="2"/>
<path d="M697.80,91.92 L697.80,90.33 L703.49,90.33 L703.49,89.72 L709.18,89.72 L709.18,89.42 L714.88,89.42 L714.88,89.02 L720.57,89.02 L720.57,88.12 L726.26,88.12 L726.26,88.12 L731.95,88.12 L731.95,87.72 L737.65,87.72 L737.65,87.42 L743.34,87.42 L743.34,86.83 L749.03,86.83 L749.03,86.83 L754.72,86.83 L754.72,86.12 L760.42,86.12 L760.42,85.52 L766.11,85.52 L766.11,85.83 L771.80,85.83 L771.80,85.83 L777.50,85.83 L777.50,85.52 L783.19,85.52 L783.19,85.83 L788.88,85.83 L788.88,86.12 L794.57,86.12 L794.57,86.42 L800.26,86.42 L800.26,86.12 L805.96,86.12 L805.96,86.83 L811.65,86.83 L811.65,86.83 L817.34,86.83 L817.34,87.12 L823.03,87.12 L823.03,87.42 L828.73,87.42 L828.73,87.42 L834.42,87.42 L834.42,88.72 L840.11,88.72 L840.11,89.02 L845.80,89.02 L845.80,89.42 L851.50,89.42 L851.50,89.42 L857.19,89.42 L857.19,89.72 L862.88,89.72 L862.88,90.12 L868.58,90.12 L868.58,90.33 L874.27,90.33 L874.27,90.62 L879.96,90.62 L879.96,90.77 L885.65,90.77 L885.65,90.83 L891.35,90.83 L891.35,90.83 L897.04,90.83 L897.04,90.83 L902.73,90.83 L902.73,90.83 L908.42,90.83 L908.42,90.83 L914.12,90.83 L914.12,90.83 L919.81,90.83 L919.81,90.83 L925.50,90.83 L925.50,91.92Z" fill="#3479e3"/>
<line x1="697.80" y1="90.92" x2="925.50" y2="90.92" stroke="#3479e3" stroke-width="2"/>
<path d="M697.80,110.10 L697.80,108.50 L703.49,108.50 L703.49,108.20 L709.18,108.20 L709.18,108.00 L714.88,108.00 L714.88,107.80 L720.57,107.80 L720.57,107.60 L726.26,107.60 L726.26,107.20 L731.95,107.20 L731.95,106.90 L737.65,106.90 L737.65,106.50 L743.34,106.50 L743.34,106.30 L749.03,106.30 L749.03,105.90 L754.72,105.90 L754.72,105.60 L760.42,105.60 L760.42,105.40 L766.11,105.40 L766.11,105.40 L771.80,105.40 L771.80,105.00 L777.50,105.00 L777.50,104.60 L783.19,104.60 L783.19,105.00 L788.88,105.00 L788.88,104.60 L794.57,104.60 L794.57,104.30 L800.26,104.30 L800.26,104.10 L805.96,104.10 L805.96,103.70 L811.65,103.70 L811.65,104.10 L817.34,104.10 L817.34,103.70 L823.03,103.70 L823.03,103.70 L828.73,103.70 L828.73,104.30 L834.42,104.30 L834.42,105.00 L840.11,105.00 L840.11,105.40 L845.80,105.40 L845.80,105.90 L851.50,105.90 L851.50,106.60 L857.19,106.60 L857.19,107.60 L862.88,107.60 L862.88,108.00 L868.58,108.00 L868.58,108.20 L874.27,108.20 L874.27,108.50 L879.96,108.50 L879.96,108.80 L885.65,108.80 L885.65,108.95 L891.35,108.95 L891.35,109.00 L897.04,109.00 L897.04,109.00 L902.73,109.00 L902.73,109.00 L908.42,109.00 L908.42,109.00 L914.12,109.00 L914.12,109.00 L919.81,109.00 L919.81,109.00 L925.50,109.00 L925.50,110.10Z" fill="#3479e3"/>
<line x1="697.80" y1="109.10" x2="925.50" y2="109.10" stroke="#3479e3" stroke-width="2"/>
<path d="M697.80,128.28 L697.80,127.18 L703.49,127.18 L703.49,127.12 L709.18,127.12 L709.18,127.08 L714.88,127.08 L714.88,126.98 L720.57,126.98 L720.57,126.88 L726.26,126.88 L726.26,126.78 L731.95,126.78 L731.95,126.58 L737.65,126.58 L737.65,126.38 L743.34,126.38 L743.34,126.28 L749.03,126.28 L749.03,125.48 L754.72,125.48 L754.72,124.58 L760.42,124.58 L760.42,124.08 L766.11,124.08 L766.11,124.08 L771.80,124.08 L771.80,123.38 L777.50,123.38 L777.50,123.38 L783.19,123.38 L783.19,122.88 L788.88,122.88 L788.88,122.38 L794.57,122.38 L794.57,121.78 L800.26,121.78 L800.26,120.78 L805.96,120.78 L805.96,120.78 L811.65,120.78 L811.65,121.28 L817.34,121.28 L817.34,120.78 L823.03,120.78 L823.03,120.08 L828.73,120.08 L828.73,120.38 L834.42,120.38 L834.42,121.28 L840.11,121.28 L840.11,122.08 L845.80,122.08 L845.80,122.58 L851.50,122.58 L851.50,123.28 L857.19,123.28 L857.19,124.08 L862.88,124.08 L862.88,124.58 L868.58,124.58 L868.58,125.48 L874.27,125.48 L874.27,125.78 L879.96,125.78 L879.96,126.28 L885.65,126.28 L885.65,126.78 L891.35,126.78 L891.35,127.03 L897.04,127.03 L897.04,127.15 L902.73,127.15 L902.73,127.18 L908.42,127.18 L908.42,127.18 L914.12,127.18 L914.12,127.18 L919.81,127.18 L919.81,127.18 L925.50,127.18 L925.50,128.28Z" fill="#3479e3"/>
<line x1="697.80" y1="127.28" x2="925.50" y2="127.28" stroke="#3479e3" stroke-width="2"/>
<path d="M697.80,146.45 L697.80,145.35 L703.49,145.35 L703.49,145.35 L709.18,145.35 L709.18,145.35 L714.88,145.35 L714.88,145.30 L720.57,145.30 L720.57,145.25 L726.26,145.25 L726.26,145.15 L731.95,145.15 L731.95,145.05 L737.65,145.05 L737.65,144.95 L743.34,144.95 L743.34,144.85 L749.03,144.85 L749.03,144.85 L754.72,144.85 L754.72,143.95 L760.42,143.95 L760.42,143.45 L766.11,143.45 L766.11,143.15 L771.80,143.15 L771.80,142.65 L777.50,142.65 L777.50,141.95 L783.19,141.95 L783.19,141.45 L788.88,141.45 L788.88,140.65 L794.57,140.65 L794.57,139.75 L800.26,139.75 L800.26,139.25 L805.96,139.25 L805.96,139.25 L811.65,139.25 L811.65,138.95 L817.34,138.95 L817.34,138.05 L823.03,138.05 L823.03,137.25 L828.73,137.25 L828.73,137.25 L834.42,137.25 L834.42,138.05 L840.11,138.05 L840.11,138.55 L845.80,138.55 L845.80,139.75 L851.50,139.75 L851.50,140.65 L857.19,140.65 L857.19,141.45 L862.88,141.45 L862.88,142.35 L868.58,142.35 L868.58,143.15 L874.27,143.15 L874.27,143.95 L879.96,143.95 L879.96,144.45 L885.65,144.45 L885.65,144.95 L891.35,144.95 L891.35,145.20 L897.04,145.20 L897.04,145.32 L902.73,145.32 L902.73,145.35 L908.42,145.35 L908.42,145.35 L914.12,145.35 L914.12,145.35 L919.81,145.35 L919.81,145.35 L925.50,145.35 L925.50,146.45Z" fill="#3479e3"/>
<line x1="697.80" y1="145.45" x2="925.50" y2="145.45" stroke="#3479e3" stroke-width="2"/>
<path d="M697.80,164.62 L697.80,163.53 L703.49,163.53 L703.49,163.53 L709.18,163.53 L709.18,163.53 L714.88,163.53 L714.88,163.53 L720.57,163.53 L720.57,163.53 L726.26,163.53 L726.26,163.53 L731.95,163.53 L731.95,163.53 L737.65,163.53 L737.65,163.53 L743.34,163.53 L743.34,163.53 L749.03,163.53 L749.03,163.53 L754.72,163.53 L754.72,163.51 L760.42,163.51 L760.42,163.40 L766.11,163.40 L766.11,163.18 L771.80,163.18 L771.80,162.72 L777.50,162.72 L777.50,161.82 L783.19,161.82 L783.19,161.53 L788.88,161.53 L788.88,160.72 L794.57,160.72 L794.57,159.72 L800.26,159.72 L800.26,158.72 L805.96,158.72 L805.96,157.93 L811.65,157.93 L811.65,157.93 L817.34,157.93 L817.34,155.22 L823.03,155.22 L823.03,155.22 L828.73,155.22 L828.73,153.82 L834.42,153.82 L834.42,155.53 L840.11,155.53 L840.11,156.53 L845.80,156.53 L845.80,156.93 L851.50,156.93 L851.50,157.43 L857.19,157.43 L857.19,157.93 L862.88,157.93 L862.88,160.12 L868.58,160.12 L868.58,161.12 L874.27,161.12 L874.27,161.53 L879.96,161.53 L879.96,161.82 L885.65,161.82 L885.65,162.43 L891.35,162.43 L891.35,163.03 L897.04,163.03 L897.04,163.32 L902.73,163.32 L902.73,163.47 L908.42,163.47 L908.42,163.53 L914.12,163.53 L914.12,163.53 L919.81,163.53 L919.81,163.53 L925.50,163.53 L925.50,164.62Z" fill="#3479e3"/>
<line x1="697.80" y1="163.62" x2="925.50" y2="163.62" stroke="#3479e3" stroke-width="2"/>
<path d="M697.80,182.80 L697.80,181.70 L703.49,181.70 L703.49,181.70 L709.18,181.70 L709.18,181.70 L714.88,181.70 L714.88,181.70 L720.57,181.70 L720.57,181.70 L726.26,181.70 L726.26,181.70 L731.95,181.70 L731.95,181.70 L737.65,181.70 L737.65,181.70 L743.34,181.70 L743.34,181.70 L749.03,181.70 L749.03,181.70 L754.72,181.70 L754.72,181.70 L760.42,181.70 L760.42,181.70 L766.11,181.70 L766.11,181.60 L771.80,181.60 L771.80,181.40 L777.50,181.40 L777.50,181.00 L783.19,181.00 L783.19,180.60 L788.88,180.60 L788.88,180.10 L794.57,180.10 L794.57,179.40 L800.26,179.40 L800.26,178.50 L805.96,178.50 L805.96,176.90 L811.65,176.90 L811.65,176.20 L817.34,176.20 L817.34,174.80 L823.03,174.80 L823.03,173.50 L828.73,173.50 L828.73,171.70 L834.42,171.70 L834.42,172.10 L840.11,172.10 L840.11,173.50 L845.80,173.50 L845.80,173.50 L851.50,173.50 L851.50,174.80 L857.19,174.80 L857.19,176.20 L862.88,176.20 L862.88,177.60 L868.58,177.60 L868.58,179.40 L874.27,179.40 L874.27,180.10 L879.96,180.10 L879.96,180.60 L885.65,180.60 L885.65,181.00 L891.35,181.00 L891.35,181.40 L897.04,181.40 L897.04,181.60 L902.73,181.60 L902.73,181.70 L908.42,181.70 L908.42,181.70 L914.12,181.70 L914.12,181.70 L919.81,181.70 L919.81,181.70 L925.50,181.70 L925.50,182.80Z" fill="#3479e3"/>
<line x1="697.80" y1="181.80" x2="925.50" y2="181.80" stroke="#3479e3" stroke-width="2"/>
<path d="M697.80,200.98 L697.80,199.88 L703.49,199.88 L703.49,199.88 L709.18,199.88 L709.18,199.88 L714.88,199.88 L714.88,199.88 L720.57,199.88 L720.57,199.88 L726.26,199.88 L726.26,199.88 L731.95,199.88 L731.95,199.88 L737.65,199.88 L737.65,199.88 L743.34,199.88 L743.34,199.88 L749.03,199.88 L749.03,199.88 L754.72,199.88 L754.72,199.88 L760.42,199.88 L760.42,199.88 L766.11,199.88 L766.11,199.88 L771.80,199.88 L771.80,199.78 L777.50,199.78 L777.50,199.58 L783.19,199.58 L783.19,199.18 L788.88,199.18 L788.88,198.58 L794.57,198.58 L794.57,197.78 L800.26,197.78 L800.26,196.78 L805.96,196.78 L805.96,196.08 L811.65,196.08 L811.65,195.48 L817.34,195.48 L817.34,194.78 L823.03,194.78 L823.03,191.28 L828.73,191.28 L828.73,189.98 L834.42,189.98 L834.42,188.98 L840.11,188.98 L840.11,190.58 L845.80,190.58 L845.80,191.68 L851.50,191.68 L851.50,191.68 L857.19,191.68 L857.19,194.78 L862.88,194.78 L862.88,196.08 L868.58,196.08 L868.58,197.48 L874.27,197.48 L874.27,198.18 L879.96,198.18 L879.96,198.88 L885.65,198.88 L885.65,199.28 L891.35,199.28 L891.35,199.63 L897.04,199.63 L897.04,199.80 L902.73,199.80 L902.73,199.88 L908.42,199.88 L908.42,199.88 L914.12,199.88 L914.12,199.88 L919.81,199.88 L919.81,199.88 L925.50,199.88 L925.50,200.98Z" fill="#3479e3"/>
<line x1="697.80" y1="199.98" x2="925.50" y2="199.98" stroke="#3479e3" stroke-width="2"/>
<path d="M697.80,219.15 L697.80,218.05 L703.49,218.05 L703.49,218.05 L709.18,218.05 L709.18,218.05 L714.88,218.05 L714.88,218.05 L720.57,218.05 L720.57,218.05 L726.26,218.05 L726.26,218.05 L731.95,218.05 L731.95,218.05 L737.65,218.05 L737.65,218.05 L743.34,218.05 L743.34,218.05 L749.03,218.05 L749.03,218.05 L754.72,218.05 L754.72,218.05 L760.42,218.05 L760.42,218.05 L766.11,218.05 L766.11,218.05 L771.80,218.05 L771.80,217.95 L777.50,217.95 L777.50,217.75 L783.19,217.75 L783.19,217.35 L788.88,217.35 L788.88,216.75 L794.57,216.75 L794.57,216.45 L800.26,216.45 L800.26,216.05 L805.96,216.05 L805.96,215.65 L811.65,215.65 L811.65,215.05 L817.34,215.05 L817.34,213.65 L823.03,213.65 L823.03,212.35 L828.73,212.35 L828.73,210.55 L834.42,210.55 L834.42,208.75 L840.11,208.75 L840.11,207.35 L845.80,207.35 L845.80,208.75 L851.50,208.75 L851.50,208.75 L857.19,208.75 L857.19,208.45 L862.88,208.45 L862.88,210.55 L868.58,210.55 L868.58,213.25 L874.27,213.25 L874.27,214.65 L879.96,214.65 L879.96,215.65 L885.65,215.65 L885.65,216.45 L891.35,216.45 L891.35,217.15 L897.04,217.15 L897.04,217.65 L902.73,217.65 L902.73,217.90 L908.42,217.90 L908.42,218.03 L914.12,218.03 L914.12,218.05 L919.81,218.05 L919.81,218.05 L925.50,218.05 L925.50,219.15Z" fill="#3479e3"/>
<line x1="697.80" y1="218.15" x2="925.50" y2="218.15" stroke="#3479e3" stroke-width="2"/>
<path d="M697.80,237.33 L697.80,236.23 L703.49,236.23 L703.49,236.23 L709.18,236.23 L709.18,236.23 L714.88,236.23 L714.88,236.23 L720.57,236.23 L720.57,236.23 L726.26,236.23 L726.26,236.23 L731.95,236.23 L731.95,236.23 L737.65,236.23 L737.65,236.23 L743.34,236.23 L743.34,236.23 L749.03,236.23 L749.03,236.23 L754.72,236.23 L754.72,236.23 L760.42,236.23 L760.42,236.23 L766.11,236.23 L766.11,236.23 L771.80,236.23 L771.80,236.23 L777.50,236.23 L777.50,236.23 L783.19,236.23 L783.19,236.13 L788.88,236.13 L788.88,235.93 L794.57,235.93 L794.57,235.53 L800.26,235.53 L800.26,234.83 L805.96,234.83 L805.96,234.33 L811.65,234.33 L811.65,233.43 L817.34,233.43 L817.34,232.53 L823.03,232.53 L823.03,231.13 L828.73,231.13 L828.73,227.73 L834.42,227.73 L834.42,226.33 L840.11,226.33 L840.11,224.23 L845.80,224.23 L845.80,225.23 L851.50,225.23 L851.50,227.03 L857.19,227.03 L857.19,227.73 L862.88,227.73 L862.88,229.73 L868.58,229.73 L868.58,232.53 L874.27,232.53 L874.27,233.23 L879.96,233.23 L879.96,234.33 L885.65,234.33 L885.65,235.23 L891.35,235.23 L891.35,235.93 L897.04,235.93 L897.04,236.13 L902.73,236.13 L902.73,236.23 L908.42,236.23 L908.42,236.23 L914.12,236.23 L914.12,236.23 L919.81,236.23 L919.81,236.23 L925.50,236.23 L925.50,237.33Z" fill="#3479e3"/>
<line x1="697.80" y1="236.33" x2="925.50" y2="236.33" stroke="#3479e3" stroke-width="2"/>
<path d="M697.80,255.50 L697.80,254.40 L703.49,254.40 L703.49,254.40 L709.18,254.40 L709.18,254.40 L714.88,254.40 L714.88,254.40 L720.57,254.40 L720.57,254.40 L726.26,254.40 L726.26,254.40 L731.95,254.40 L731.95,254.40 L737.65,254.40 L737.65,254.40 L743.34,254.40 L743.34,254.40 L749.03,254.40 L749.03,254.40 L754.72,254.40 L754.72,254.40 L760.42,254.40 L760.42,254.40 L766.11,254.40 L766.11,254.40 L771.80,254.40 L771.80,254.40 L777.50,254.40 L777.50,254.30 L783.19,254.30 L783.19,254.10 L788.88,254.10 L788.88,253.80 L794.57,253.80 L794.57,253.60 L800.26,253.60 L800.26,253.20 L805.96,253.20 L805.96,252.70 L811.65,252.70 L811.65,252.20 L817.34,252.20 L817.34,251.10 L823.03,251.10 L823.03,249.40 L828.73,249.40 L828.73,247.00 L834.42,247.00 L834.42,244.90 L840.11,244.90 L840.11,243.10 L845.80,243.10 L845.80,243.50 L851.50,243.50 L851.50,244.20 L857.19,244.20 L857.19,245.60 L862.88,245.60 L862.88,247.20 L868.58,247.20 L868.58,250.40 L874.27,250.40 L874.27,251.80 L879.96,251.80 L879.96,252.70 L885.65,252.70 L885.65,253.60 L891.35,253.60 L891.35,254.10 L897.04,254.10 L897.04,254.30 L902.73,254.30 L902.73,254.40 L908.42,254.40 L908.42,254.40 L914.12,254.40 L914.12,254.40 L919.81,254.40 L919.81,254.40 L925.50,254.40 L925.50,255.50Z" fill="#3479e3"/>
<line x1="697.80" y1="254.50" x2="925.50" y2="254.50" stroke="#3479e3" stroke-width="2"/>
<line x1="811.65" y1="58.3" x2="811.65" y2="264.5" stroke="#c62828" stroke-width="2.1" stroke-dasharray="9.2,3.17" stroke-opacity="0.78"/>
<line x1="868.58" y1="58.3" x2="868.58" y2="264.5" stroke="#c62828" stroke-width="2.1" stroke-dasharray="9.2,3.17" stroke-opacity="0.78"/>
<path d="M686.41,264.5 V57.0 H936.88" class="sp"/>
<line x1="697.80" y1="51.7" x2="697.80" y2="57.0" class="tk"/>
<text x="695.80" y="43.2" class="t" text-anchor="middle">20</text>
<line x1="754.72" y1="51.7" x2="754.72" y2="57.0" class="tk"/>
<text x="752.72" y="43.2" class="t" text-anchor="middle">30</text>
<line x1="811.65" y1="51.7" x2="811.65" y2="57.0" class="tk"/>
<text x="809.65" y="43.2" class="t" text-anchor="middle">40</text>
<line x1="868.58" y1="51.7" x2="868.58" y2="57.0" class="tk"/>
<text x="866.58" y="43.2" class="t" text-anchor="middle">50</text>
<line x1="925.50" y1="51.7" x2="925.50" y2="57.0" class="tk"/>
<text x="923.50" y="43.2" class="t" text-anchor="middle">60</text>
<line x1="681.21" y1="72.75" x2="686.41" y2="72.75" class="tk"/>
<text x="669.81" y="79.05" class="t" text-anchor="end">0.0</text>
<line x1="681.21" y1="90.92" x2="686.41" y2="90.92" class="tk"/>
<text x="669.81" y="97.22" class="t" text-anchor="end">0.2</text>
<line x1="681.21" y1="109.10" x2="686.41" y2="109.10" class="tk"/>
<text x="669.81" y="115.40" class="t" text-anchor="end">0.4</text>
<line x1="681.21" y1="127.28" x2="686.41" y2="127.28" class="tk"/>
<text x="669.81" y="133.58" class="t" text-anchor="end">0.6</text>
<line x1="681.21" y1="145.45" x2="686.41" y2="145.45" class="tk"/>
<text x="669.81" y="151.75" class="t" text-anchor="end">0.8</text>
<line x1="681.21" y1="163.62" x2="686.41" y2="163.62" class="tk"/>
<text x="669.81" y="169.93" class="t" text-anchor="end">1.0</text>
<line x1="681.21" y1="181.80" x2="686.41" y2="181.80" class="tk"/>
<text x="669.81" y="188.10" class="t" text-anchor="end">1.2</text>
<line x1="681.21" y1="199.98" x2="686.41" y2="199.98" class="tk"/>
<text x="669.81" y="206.28" class="t" text-anchor="end">1.4</text>
<line x1="681.21" y1="218.15" x2="686.41" y2="218.15" class="tk"/>
<text x="669.81" y="224.45" class="t" text-anchor="end">1.6</text>
<line x1="681.21" y1="236.33" x2="686.41" y2="236.33" class="tk"/>
<text x="669.81" y="242.63" class="t" text-anchor="end">1.8</text>
<line x1="681.21" y1="254.50" x2="686.41" y2="254.50" class="tk"/>
<text x="669.81" y="260.80" class="t" text-anchor="end">2.0</text>
<text transform="translate(636.51,162.5) rotate(-90)" class="t" text-anchor="middle" dominant-baseline="central">λ</text>
<text x="705.6" y="24.7" class="t" style="font-size:15.4px">Response length of DeRa</text>
<text x="868.93" y="22.70" font-size="13.5" class="mi" fill="#6d9ee0" stroke="#6d9ee0" stroke-width="0.25">π</text>
<text x="875.87" y="24.20" font-size="8.8" class="mi" fill="#6d9ee0" stroke="#6d9ee0" stroke-width="0.2">θ</text>
<text x="881.87" y="23.10" font-size="14.3" class="m" fill="#6d9ee0" stroke="#6d9ee0" stroke-width="0.05">(</text>
<text x="886.69" y="23.10" font-size="14.3" class="m" fill="#6d9ee0" stroke="#6d9ee0" stroke-width="0.05">0</text>
<text x="893.74" y="23.10" font-size="14.3" class="m" fill="#6d9ee0" stroke="#6d9ee0" stroke-width="0.05">.</text>
<text x="897.13" y="23.10" font-size="14.3" class="m" fill="#6d9ee0" stroke="#6d9ee0" stroke-width="0.05">1</text>
<text x="904.94" y="26.26" font-size="18.59" class="m" fill="#6d9ee0" stroke="#6d9ee0" stroke-width="0.05">/</text>
<text x="912.06" y="23.10" font-size="14.3" class="mi" fill="#6d9ee0" stroke="#6d9ee0" stroke-width="0.05">λ</text>
<text x="919.03" y="23.10" font-size="14.3" class="m" fill="#6d9ee0" stroke="#6d9ee0" stroke-width="0.05">)</text>
<text transform="translate(868.80,23.80) scale(1.66,1)" font-size="14" class="m" fill="#6d9ee0">ˆ</text>
<path d="M808.35,275.2 Q809.55,278.6 813.85,278.6 L833.76,278.6 Q836.56,278.8 839.06,282.3 Q841.56,278.8 844.36,278.6 L864.28,278.6 Q868.58,278.6 869.78,275.2" fill="none" stroke="#c43a40" stroke-width="1.8" stroke-opacity="0.85" stroke-linejoin="round"/>
<text x="840.06" y="303.2" class="rw" text-anchor="middle">rewarded</text>
</svg>
<div class="cap j" style="top:333.5px;"><i>Figure 2.</i> <b style="letter-spacing:-0.17px">Comparing DeRa and retrained models with different KL strengths in the length-reward task</b>. Panel (a): the length reward</div>
<div class="cap j" style="top:354.5px;">received by DeRa (<span class="ic" style="margin-left:-1.8px;margin-right:0.2px"></span>) and retrained models (<span class="it" style="margin-left:-1.6px"></span>) are comparable across different values of <i style="margin-left:-0.5px">λ</i>. Panel (b) and Panel (c): altering <i>λ</i> results in</div>
<div class="cap" style="top:375px;word-spacing:0;">similar length distributions in both retrained models and DeRa models; the red dashed lines mark the rewarded range of [40, 50].</div>
</body></html>
